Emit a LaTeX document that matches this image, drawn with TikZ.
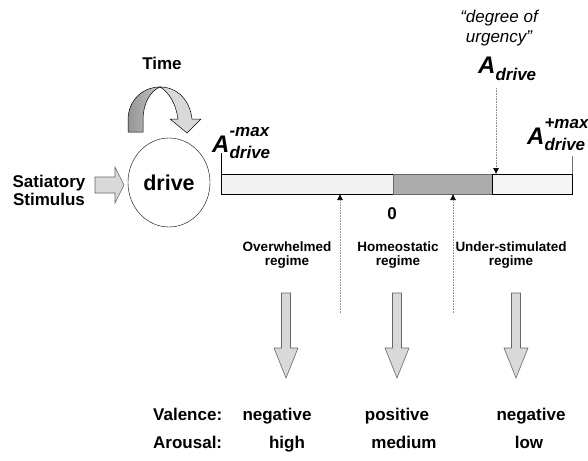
\documentclass[tikz,border=0pt]{standalone}
\usepackage{fontspec}
\setmainfont{Liberation Sans}
\usetikzlibrary{arrows.meta}
\usetikzlibrary{shapes.geometric}
\tikzset{
  big/.style={font=\bfseries\fontsize{17}{18}\selectfont, inner sep=0pt},
  regime/.style={font=\bfseries\fontsize{13.5}{14}\selectfont, inner sep=0pt, align=center},
  Alabel/.style={font=\bfseries\itshape\fontsize{17}{18}\selectfont, inner sep=0pt, anchor=base west},
  seg/.style={draw, line width=0.6pt, inner sep=0pt, outer sep=0pt, minimum height=20pt, anchor=north west},
  probe/.style={densely dotted, black!45, line width=0.6pt, -{Latex[length=6pt,width=6pt,color=black]}},
  blockarr/.style={draw=black!60, fill=black!15, line width=0.6pt},
}
\newcommand{\Abig}{{\fontsize{24}{24}\selectfont A}}
\newcommand{\Adrv}[1]{\Abig\raisebox{-6pt}{\rlap{\raisebox{22pt}{#1}}drive}}

\begin{document}
\begin{tikzpicture}[x=1pt,y=-1pt]
    \useasboundingbox (0,0) rectangle (588,460);

    % the drive and its inputs
    \node[draw, ellipse, minimum width=82pt, minimum height=89pt, inner sep=0pt,
          font=\bfseries\fontsize{21.5}{22}\selectfont] (drive) at (169,182.5) {drive};
    \node[big, anchor=base] (time) at (162,70) {Time};
    \node[big, align=center] (stim) at (49,190) {Satiatory\\Stimulus};

    \draw[fill=black!15, line width=0.5pt] (160,87) .. controls (178,87) and (190,101) .. (192,119)
        -- (201,119) -- (187,133) -- (170,119) -- (178,119)
        .. controls (176,104) and (169,92) .. (160,87) -- cycle;
    \shade[left color=black!42, right color=black!22, draw=black, line width=0.5pt]
        (128,132) -- (128,120) .. controls (128,100) and (143,87) .. (160,87)
        .. controls (150,91) and (143,104) .. (143,120) -- (143,132) -- cycle;

    \draw[blockarr] (95,177) -- (115,177) -- (115,167) -- (124,185) -- (115,203) -- (115,193) -- (95,193) -- cycle;

    % the scale of A_drive
    \node[seg, fill=black!5, minimum width=172pt] (low) at (221,174) {};
    \node[seg, draw=black!60, fill=black!33, minimum width=99pt] (mid) at (393,174) {};
    \node[seg, fill=black!4, minimum width=80pt] (high) at (492,174) {};
    \draw[line width=0.6pt] (low.north west) -- ++(0,-21);
    \draw[black!55, line width=0.6pt] (high.north east) -- ++(0,-18);

    \node[Alabel] (amin) at (212,152) {\Adrv{-max}};
    \node[Alabel] (amax) at (527,144) {\Adrv{+max}};
    \node[font=\itshape\fontsize{17}{20}\selectfont, align=center, inner sep=0pt] (urgtxt) at (499,28) {“degree of\\urgency”};
    \node[Alabel] (acur) at (478,74) {\Abig\raisebox{-6pt}{drive}};
    \node[big, anchor=base] (zero) at (392,219) {0};

    \coordinate (urg) at (496,88);
    \coordinate (pin1) at (340,313);
    \coordinate (pin2) at (453,313);
    \draw[probe] (urg) -- (urg |- high.north);
    \draw[probe] (pin1) -- (pin1 |- low.south);
    \draw[probe] (pin2) -- (pin2 |- mid.south);

    % regimes
    \node[regime] (over) at (287,255) {Overwhelmed\\regime};
    \node[regime] (homeo) at (398,255) {Homeostatic\\regime};
    \node[regime] (under) at (511,255) {Under-stimulated\\regime};

    \foreach \x in {286,397,516}
        \draw[blockarr] (\x-4.5,293) -- (\x+4.5,293) -- (\x+4.5,348) -- (\x+12,348)
            -- (\x,378) -- (\x-12,348) -- (\x-4.5,348) -- cycle;

    % outcomes
    \node[big, anchor=base west] (val) at (153,420) {Valence:};
    \node[big, anchor=base] (val1) at (277,420) {negative};
    \node[big, anchor=base] (val2) at (397,420) {positive};
    \node[big, anchor=base] (val3) at (531,420) {negative};
    \node[big, anchor=base west] (aro) at (153,448) {Arousal:};
    \node[big, anchor=base] (aro1) at (287,448) {high};
    \node[big, anchor=base] (aro2) at (404,448) {medium};
    \node[big, anchor=base] (aro3) at (529,448) {low};

\end{tikzpicture}
\end{document}
